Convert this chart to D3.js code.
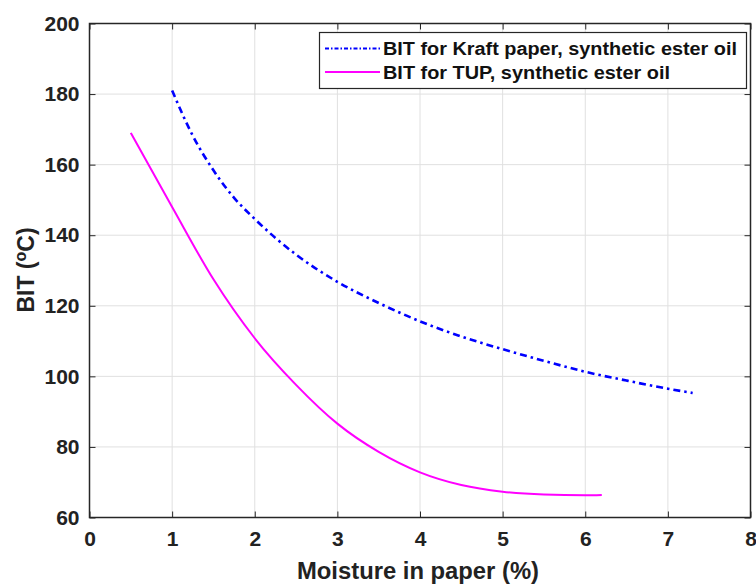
<!DOCTYPE html>
<html>
<head>
<meta charset="utf-8">
<script src="https://cdn.jsdelivr.net/npm/d3@7"></script>
<style>
  body { margin: 0; background: #fff; }
  svg { display: block; font-family: "Liberation Sans", Arial, sans-serif; }
</style>
</head>
<body>
<svg id="chart"></svg>
<script>
const width = 756
const height = 585

// moisture (%) and BIT (degC)
const kraftX = [1, 1.25, 1.5, 1.75, 2, 2.5, 3, 3.5, 4, 4.5, 5, 5.5, 6, 6.5, 7, 7.3]
const kraftY = [181, 168.2, 158.4, 150.6, 144.6, 134.5, 126.8, 120.8, 115.6, 111.3, 107.7, 104.4, 101.3, 98.8, 96.5, 95.3]
const tupX = [0.5, 1, 1.5, 2, 2.5, 3, 3.5, 4, 4.5, 5, 5.5, 6, 6.2]
const tupY = [169, 148, 127.5, 110.8, 97.6, 86.6, 78.6, 72.8, 69.2, 67.3, 66.5, 66.3, 66.4]

const xTicks = [0, 1, 2, 3, 4, 5, 6, 7, 8]
const yTicks = [60, 80, 100, 120, 140, 160, 180, 200]
const legendLabels = ['BIT for Kraft paper, synthetic ester oil', 'BIT for TUP, synthetic ester oil']

const plotLeft = 89.5, plotRight = 750.5, plotTop = 23.5, plotBottom = 517.5

const x = d3.scaleLinear().domain([0, 8]).range([plotLeft, plotRight])
const y = d3.scaleLinear().domain([60, 200]).range([plotBottom, plotTop])

const svg = d3.select('#chart').attr('width', width).attr('height', height)

// grid
svg.append('g')
  .selectAll('line')
  .data(xTicks.slice(1, -1))
  .join('line')
  .attr('x1', d => x(d)).attr('x2', d => x(d))
  .attr('y1', plotTop).attr('y2', plotBottom)
  .attr('stroke', '#e0e0e0').attr('stroke-width', 1)

svg.append('g')
  .selectAll('line')
  .data(yTicks.slice(1, -1))
  .join('line')
  .attr('x1', plotLeft).attr('x2', plotRight)
  .attr('y1', d => y(d)).attr('y2', d => y(d))
  .attr('stroke', '#e0e0e0').attr('stroke-width', 1)

// axes with inward ticks
const tickLen = 6
const axisColor = '#262626'

const xb = svg.append('g').attr('transform', `translate(0,${plotBottom})`)
  .call(d3.axisBottom(x).tickValues(xTicks).tickSizeInner(-tickLen).tickSizeOuter(0).tickPadding(14))
const xt = svg.append('g').attr('transform', `translate(0,${plotTop})`)
  .call(d3.axisTop(x).tickValues(xTicks).tickSizeInner(-tickLen).tickSizeOuter(0).tickFormat(''))
const yl = svg.append('g').attr('transform', `translate(${plotLeft},0)`)
  .call(d3.axisLeft(y).tickValues(yTicks).tickSizeInner(-tickLen).tickSizeOuter(0).tickPadding(10))
const yr = svg.append('g').attr('transform', `translate(${plotRight},0)`)
  .call(d3.axisRight(y).tickValues(yTicks).tickSizeInner(-tickLen).tickSizeOuter(0).tickFormat(''))

;[xb, xt, yl, yr].forEach(g => {
  g.select('.domain').remove()
  g.selectAll('line').attr('stroke', axisColor).attr('stroke-width', 1)
  g.selectAll('text')
    .attr('fill', '#222')
    .style('font-size', '21px')
    .style('font-weight', 'bold')
    .style('font-family', '"Liberation Sans", Arial, sans-serif')
})

svg.append('rect')
  .attr('x', plotLeft).attr('y', plotTop)
  .attr('width', plotRight - plotLeft).attr('height', plotBottom - plotTop)
  .attr('fill', 'none').attr('stroke', axisColor).attr('stroke-width', 1.5)

// curves
const line = d3.line().x(d => x(d[0])).y(d => y(d[1])).curve(d3.curveMonotoneX)

svg.append('path')
  .datum(kraftX.map((v, i) => [v, kraftY[i]]))
  .attr('d', line)
  .attr('fill', 'none')
  .attr('stroke', '#0000ff')
  .attr('stroke-width', 2.6)
  .attr('stroke-dasharray', '7,4,2.5,4')

svg.append('path')
  .datum(tupX.map((v, i) => [v, tupY[i]]))
  .attr('d', line)
  .attr('fill', 'none')
  .attr('stroke', '#ff00ff')
  .attr('stroke-width', 2)

// axis titles
svg.append('text')
  .attr('x', 418)
  .attr('y', 579)
  .attr('text-anchor', 'middle')
  .attr('fill', '#222')
  .attr('textLength', 242)
  .attr('lengthAdjust', 'spacingAndGlyphs')
  .style('font-size', '23px')
  .style('font-weight', 'bold')
  .text('Moisture in paper (%)')

const yTitle = svg.append('text')
  .attr('transform', `translate(34,270) rotate(-90)`)
  .attr('text-anchor', 'middle')
  .attr('fill', '#222')
  .style('font-size', '23px')
  .style('font-weight', 'bold')
yTitle.append('tspan').text('BIT (')
yTitle.append('tspan').attr('dy', -8).style('font-size', '16px').text('o')
yTitle.append('tspan').attr('dy', 8).text('C)')

// legend
const legend = svg.append('g')
legend.append('rect')
  .attr('x', 319.5).attr('y', 32.5).attr('width', 427).attr('height', 56)
  .attr('fill', '#fff').attr('stroke', axisColor).attr('stroke-width', 1.2)

const legendStyles = [
  { color: '#0000ff', dash: '4,2,1.5,2', w: 2.2 },
  { color: '#ff00ff', dash: null, w: 2 },
]
const legendLens = [354, 287]
legendLabels.forEach((label, i) => {
  const ly = 48.5 + i * 23.5
  legend.append('line')
    .attr('x1', 325).attr('x2', 380)
    .attr('y1', ly).attr('y2', ly)
    .attr('stroke', legendStyles[i].color)
    .attr('stroke-width', legendStyles[i].w)
    .attr('stroke-dasharray', legendStyles[i].dash)
  legend.append('text')
    .attr('x', 383).attr('y', ly + 6.5)
    .attr('fill', '#111')
    .attr('textLength', legendLens[i])
    .attr('lengthAdjust', 'spacingAndGlyphs')
    .style('font-size', '18px')
    .style('font-weight', 'bold')
    .text(label)
})
</script>
</body>
</html>
